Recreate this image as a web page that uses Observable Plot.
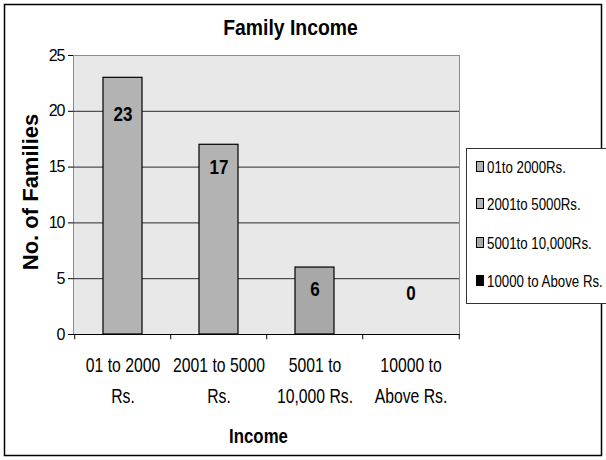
<!DOCTYPE html>
<html><head><meta charset="utf-8">
<script src="https://cdn.jsdelivr.net/npm/d3@7"></script>
<script src="https://cdn.jsdelivr.net/npm/@observablehq/plot@0.6"></script>
<style>
html,body{margin:0;padding:0;background:#fff;}
#chart svg{display:block;font-family:"Liberation Sans",Arial,sans-serif;}
</style></head>
<body><div id="chart"></div>
<script>
const title = "Family Income";
const yLabel = "No. of Families";
const xLabel = "Income";
const categories = ["01 to 2000\nRs.", "2001 to 5000\nRs.", "5001 to\n10,000 Rs.", "10000 to\nAbove Rs."];
const values = [23, 17, 6, 0];
const barColors = ["#b3b3b3", "#b3b3b3", "#a8a8a8", "#000000"];
const legendLabels = ["01to 2000Rs.", "2001to 5000Rs.", "5001to 10,000Rs.", "10000 to Above Rs."];
const yTicks = [0, 5, 10, 15, 20, 25];

const data = categories.map((c, i) => ({cat: c, value: values[i], color: barColors[i], label: legendLabels[i]}));

const W = 606, H = 460;
const mL = 73, mR = 147, mT = 55, mB = 126;
const step = (W - mL - mR) / categories.length;

const plot = Plot.plot({
  width: W, height: H,
  marginLeft: mL, marginRight: mR, marginTop: mT, marginBottom: mB,
  style: {fontFamily: '"Liberation Sans", Arial, sans-serif', background: "transparent"},
  x: {type: "band", domain: categories, paddingInner: 0.595, paddingOuter: 0.2975, align: 0.5},
  y: {domain: [0, 25]},
  color: {type: "identity"},
  marks: [
    Plot.frame({fill: "#e8e8e8", stroke: "#8c8c8c"}),
    Plot.ruleY([5, 10, 15, 20], {stroke: "#2a2a2a", strokeWidth: 1}),
    Plot.barY(data, {x: "cat", y: "value", fill: "color", stroke: "#000", strokeWidth: 1.2, filter: d => d.value > 0}),
    Plot.ruleY([0], {stroke: "#000", strokeWidth: 1.2}),
    Plot.ruleX([0], {frameAnchor: "left", y1: 0, y2: 25, stroke: "#000"}),
    Plot.ruleX(data, {x: "cat", dx: -step / 2, y1: 0, y2: -0.48, stroke: "#000"}),
    Plot.ruleX(data.slice(-1), {x: "cat", dx: step / 2, y1: 0, y2: -0.48, stroke: "#000"}),
    Plot.text(data, {
      x: "cat",
      y: d => Math.min(Math.max(d.value - 2, 3.7), 19.7),
      text: d => String(d.value),
      fontSize: 20, fontWeight: "bold", fill: "#000"
    }),
    Plot.axisY({ticks: yTicks, tickSize: 5, tickPadding: 4, fontSize: 16, label: null}),
    Plot.axisX({tickSize: 0, tickPadding: 16, fontSize: 21, lineHeight: 1.45, label: null}),
    Plot.text([title], {frameAnchor: "top", dx: 24, dy: -36, fontSize: 22, fontWeight: "bold"}),
    Plot.text([yLabel], {frameAnchor: "left", textAnchor: "middle", dx: -43, dy: -3, rotate: -90, fontSize: 22, fontWeight: "bold"}),
    Plot.text([xLabel], {frameAnchor: "bottom", dx: -8, dy: 108, fontSize: 20, fontWeight: "bold"})
  ]
});

const svg = d3.select(plot);

function condense(sel, sx) {
  sel.each(function () {
    const el = this;
    let t = el.getAttribute("transform");
    if (!t) {
      const x = parseFloat(el.getAttribute("x")) || 0, y = parseFloat(el.getAttribute("y")) || 0;
      el.removeAttribute("x"); el.removeAttribute("y");
      t = `translate(${x},${y})`;
    }
    el.setAttribute("transform", t + ` scale(${sx},1)`);
  });
}
const textGroups = svg.selectAll('g[aria-label="text"]').nodes();
// order: value labels, title, y label, x label
condense(d3.select(textGroups[0]).selectAll("text"), 0.85);
condense(d3.select(textGroups[1]).selectAll("text"), 0.88);
condense(d3.select(textGroups[3]).selectAll("text"), 0.84);
condense(svg.selectAll('g[aria-label="x-axis tick label"] text'), 0.75);
svg.selectAll('g[aria-label="y-axis tick label"]').style("letter-spacing", "-1px");

// outer chart border
svg.insert("rect", ":first-child")
  .attr("x", 4.5).attr("y", 4.5).attr("width", 597).attr("height", 451)
  .attr("fill", "#fff").attr("stroke", "#000").attr("stroke-width", 1.5);

// legend
const lg = svg.append("g").attr("text-anchor", "start");
lg.append("rect").attr("x", 466.5).attr("y", 148.5).attr("width", 150).attr("height", 155)
  .attr("fill", "#fff").attr("stroke", "#333").attr("stroke-width", 1);
const ys = [167, 204, 243, 281];
data.forEach((d, i) => {
  lg.append("rect").attr("x", 476.5).attr("y", ys[i] - 5.5).attr("width", 7).attr("height", 10)
    .attr("fill", d.color).attr("stroke", "#000").attr("stroke-width", 1);
  lg.append("text").attr("transform", `translate(487,${ys[i]}) scale(0.83,1)`).attr("dy", "0.35em")
    .attr("text-anchor", "start")
    .attr("font-size", 16).attr("fill", "#000")
    .text(d.label);
});

document.getElementById("chart").appendChild(plot);
</script>
</body></html>
